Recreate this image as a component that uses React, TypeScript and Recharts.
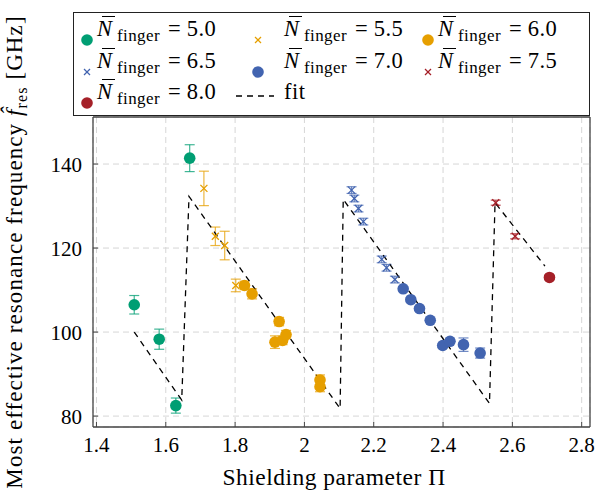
import React from 'react';
import { ComposedChart, Scatter, XAxis, YAxis, CartesianGrid, ErrorBar } from 'recharts';

type Pt = { x: number; y: number; err: number };

// measured points, N_finger groups
const n50: Pt[] = [
  { x: 1.509, y: 106.5, err: 2.2 },
  { x: 1.581, y: 98.3, err: 2.4 },
  { x: 1.629, y: 82.5, err: 1.8 },
  { x: 1.669, y: 141.4, err: 3.2 },
];
const n55: Pt[] = [
  { x: 1.71, y: 134.2, err: 4.1 },
  { x: 1.743, y: 122.8, err: 2.2 },
  { x: 1.77, y: 120.6, err: 3.4 },
  { x: 1.802, y: 111.1, err: 1.5 },
];
const n60: Pt[] = [
  { x: 1.827, y: 111.1, err: 1.0 },
  { x: 1.849, y: 109.1, err: 1.2 },
  { x: 1.927, y: 102.5, err: 1.0 },
  { x: 1.915, y: 97.6, err: 1.5 },
  { x: 1.937, y: 98.0, err: 1.0 },
  { x: 1.947, y: 99.4, err: 1.0 },
  { x: 2.045, y: 88.6, err: 1.2 },
  { x: 2.045, y: 87.0, err: 1.2 },
];
const n65: Pt[] = [
  { x: 2.136, y: 133.8, err: 0.8 },
  { x: 2.144, y: 131.8, err: 0.8 },
  { x: 2.156, y: 129.4, err: 0.8 },
  { x: 2.17, y: 126.3, err: 0.8 },
  { x: 2.223, y: 117.3, err: 0.8 },
  { x: 2.237, y: 115.3, err: 0.8 },
  { x: 2.261, y: 112.5, err: 0.8 },
];
const n70: Pt[] = [
  { x: 2.285, y: 110.3, err: 0.5 },
  { x: 2.307, y: 107.7, err: 0.5 },
  { x: 2.332, y: 105.6, err: 0.5 },
  { x: 2.363, y: 102.8, err: 0.5 },
  { x: 2.399, y: 96.8, err: 0.5 },
  { x: 2.42, y: 97.8, err: 0.5 },
  { x: 2.459, y: 97.0, err: 1.6 },
  { x: 2.507, y: 95.0, err: 1.2 },
];
const n75: Pt[] = [
  { x: 2.552, y: 130.8, err: 0.6 },
  { x: 2.608, y: 122.8, err: 0.6 },
];
const n80: Pt[] = [{ x: 2.707, y: 113.0, err: 0.5 }];

const fitX = [1.509, 1.646, 1.667, 2.103, 2.112, 2.534, 2.55, 2.694];
const fitY = [100.0, 83.8, 132.3, 81.8, 131.6, 83.0, 130.8, 115.7];
const fitLine = fitX.map((x, i) => ({ x, y: fitY[i] }));

const xTicks = [1.4, 1.6, 1.8, 2.0, 2.2, 2.4, 2.6, 2.8];
const yTicks = [80, 100, 120, 140];

const FONT = '"Liberation Serif", "Times New Roman", serif';

type Series = { label: string; data: Pt[]; color: string; marker: 'circle' | 'cross' };
const series: Series[] = [
  { label: '5.0', data: n50, color: '#009E73', marker: 'circle' },
  { label: '5.5', data: n55, color: '#E69F00', marker: 'cross' },
  { label: '6.0', data: n60, color: '#E69F00', marker: 'circle' },
  { label: '6.5', data: n65, color: '#4264B0', marker: 'cross' },
  { label: '7.0', data: n70, color: '#4264B0', marker: 'circle' },
  { label: '7.5', data: n75, color: '#A52028', marker: 'cross' },
  { label: '8.0', data: n80, color: '#A52028', marker: 'circle' },
];

const makeShape = (s: Series) => (p: any) => {
  const { cx, cy } = p;
  if (s.marker === 'circle') return <circle cx={cx} cy={cy} r={5.8} fill={s.color} />;
  const d = 3.5;
  return (
    <g stroke={s.color} strokeWidth={1.3}>
      <line x1={cx - d} y1={cy - d} x2={cx + d} y2={cy + d} />
      <line x1={cx - d} y1={cy + d} x2={cx + d} y2={cy - d} />
    </g>
  );
};

const Nbar = ({ v }: { v: string }) => (
  <span style={{ whiteSpace: 'nowrap', fontFamily: FONT }}>
    <span style={{ position: 'relative', fontStyle: 'italic' }}>
      N
      <span style={{ position: 'absolute', left: '0.24em', top: '0.02em', width: '0.55em', borderTop: '1.3px solid #000' }} />
    </span>
    <span style={{ fontSize: 17, position: 'relative', top: 5, marginLeft: 5, letterSpacing: 0.4 }}>finger</span>
    <span style={{ marginLeft: 8, marginRight: 6 }}>=</span>
    <span style={{ letterSpacing: 0.5 }}>{v}</span>
  </span>
);

const LegendMarker = ({ s }: { s: Series }) => (
  <svg width={14} height={14} style={{ overflow: 'visible' }}>
    {s.marker === 'circle' ? (
      <circle cx={7} cy={7} r={5.8} fill={s.color} />
    ) : (
      <g stroke={s.color} strokeWidth={1.2}>
        <line x1={4} y1={4} x2={10} y2={10} />
        <line x1={4} y1={10} x2={10} y2={4} />
      </g>
    )}
  </svg>
);

const colMarker = [6, 177, 347];
const colText = [23, 210, 364];

const LegendBox = () => (
  <div
    style={{
      position: 'absolute', left: 73, top: 12, width: 517, height: 104, boxSizing: 'border-box',
      border: '1.3px solid #222', background: '#fff', fontFamily: FONT, fontSize: 22.5, color: '#000',
    }}
  >
    {series.map((s, i) => {
      const row = Math.floor(i / 3);
      const col = i % 3;
      const top = 8 + row * 31.5;
      return (
        <React.Fragment key={s.label}>
          <div style={{ position: 'absolute', left: colMarker[col], top: top + 6 }}>
            <LegendMarker s={s} />
          </div>
          <div style={{ position: 'absolute', left: colText[col], top: top - 5, lineHeight: '26px' }}>
            <Nbar v={s.label} />
          </div>
        </React.Fragment>
      );
    })}
    <svg style={{ position: 'absolute', left: 160, top: 78 }} width={42} height={10}>
      <line x1={2} y1={5} x2={40} y2={5} stroke="#000" strokeWidth={1.3} strokeDasharray="6 5" />
    </svg>
    <div style={{ position: 'absolute', left: colText[1], top: 8 + 63 - 5, lineHeight: '26px', fontFamily: FONT, letterSpacing: 0.5 }}>fit</div>
  </div>
);

const YTitle = () => (
  <text
    x={22} y={252} transform="rotate(-90 22 252)" textAnchor="middle"
    fontFamily={FONT} fontSize={23} letterSpacing={1.1} fill="#000"
  >
    Most effective resonance frequency{' '}
    <tspan fontStyle="italic">f&#770;</tspan>
    <tspan fontSize={16} dy={5}>res</tspan>
    <tspan dy={-5}>{'  '}[GHz]</tspan>
  </text>
);

const XTitle = () => (
  <text x={334} y={485} textAnchor="middle" fontFamily={FONT} fontSize={23.5} letterSpacing={0.5} fill="#000">
    Shielding parameter Π
  </text>
);

const tickStyle = { fontFamily: FONT, fontSize: 21, fill: '#000' };

export default function App() {
  return (
    <div style={{ position: 'absolute', left: 0, top: 0, width: 597, height: 500, background: '#fff', fontFamily: FONT }}>
      <ComposedChart width={597} height={500} margin={{ top: 116, right: 6, bottom: 0, left: 0 }} style={{ fontFamily: FONT }}>
        <CartesianGrid stroke="#d6d6d6" strokeDasharray="6 4" />
        <XAxis
          dataKey="x" type="number" domain={[1.39, 2.824]} ticks={xTicks} allowDataOverflow
          height={73} tickSize={-5} tickMargin={15} tick={tickStyle}
          axisLine={{ stroke: '#444', strokeWidth: 1.3 }} tickLine={{ stroke: '#444' }}
          label={{ content: XTitle }}
        />
        <XAxis
          xAxisId="top" orientation="top" dataKey="x" type="number" domain={[1.39, 2.824]} ticks={xTicks}
          allowDataOverflow height={1} tickSize={-5} tick={false}
          axisLine={{ stroke: '#444', strokeWidth: 1.3 }} tickLine={{ stroke: '#444' }}
        />
        <YAxis
          dataKey="y" type="number" domain={[77.4, 151.2]} ticks={yTicks} allowDataOverflow
          width={93} tickSize={-5} tickMargin={16} tick={tickStyle}
          axisLine={{ stroke: '#444', strokeWidth: 1.3 }} tickLine={{ stroke: '#444' }}
          label={{ content: YTitle }}
        />
        <YAxis
          yAxisId="right" orientation="right" dataKey="y" type="number" domain={[77.4, 151.2]} ticks={yTicks}
          allowDataOverflow width={1} tickSize={-5} tick={false}
          axisLine={{ stroke: '#444', strokeWidth: 1.3 }} tickLine={{ stroke: '#444' }}
        />
        <Scatter
          name="fit" data={fitLine} isAnimationActive={false} legendType="none"
          line={{ stroke: '#000', strokeWidth: 1.3, strokeDasharray: '6 5' }}
          shape={() => <g />}
        />
        {series.map((s) => (
          <Scatter key={s.label} name={s.label} data={s.data} isAnimationActive={false} shape={makeShape(s)}>
            <ErrorBar dataKey="err" direction="y" width={5} stroke={s.color} strokeOpacity={0.75} strokeWidth={1.2} isAnimationActive={false} />
          </Scatter>
        ))}
      </ComposedChart>
      <LegendBox />
    </div>
  );
}
